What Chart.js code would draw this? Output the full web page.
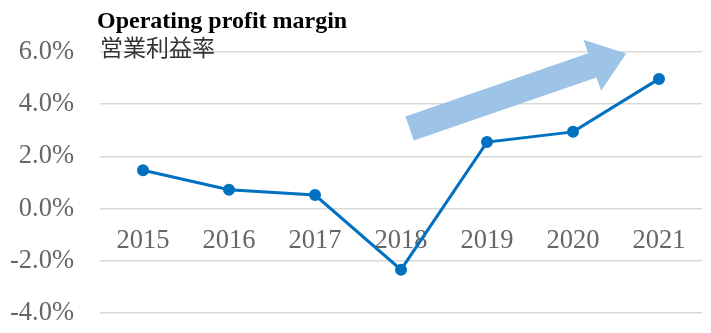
<!DOCTYPE html>
<html>
<head>
<meta charset="utf-8">
<script src="https://cdn.jsdelivr.net/npm/chart.js@4/dist/chart.umd.min.js"></script>
<style>
  html, body { margin: 0; padding: 0; background: #fff; overflow: hidden; }
  canvas { display: block; }
</style>
</head>
<body>
<canvas id="marginChart" width="711" height="333"></canvas>
<script>
const years = ['2015', '2016', '2017', '2018', '2019', '2020', '2021'];
const marginPct = [1.47, 0.72, 0.52, -2.34, 2.55, 2.94, 4.97];
const yTicks = [-4, -2, 0, 2, 4, 6];

const titleEn = 'Operating profit margin';
const titleJa = '営業利益率';

// trend arrow, anchored in (category index, %) space
const trendArrow = { from: [3.1, 3.07], to: [5.62, 5.94] };

const serif = "'Liberation Serif', 'Times New Roman', serif";

const headingPlugin = {
    id: 'heading',
    afterDraw(chart) {
        const ctx = chart.ctx;
        const left = chart.chartArea.left - 3;
        ctx.save();
        ctx.textAlign = 'left';
        ctx.textBaseline = 'alphabetic';
        ctx.fillStyle = '#000';
        ctx.font = 'bold 24px ' + serif;
        ctx.fillText(titleEn, left, 28);
        ctx.fillStyle = '#333';
        ctx.font = "23px 'Noto Sans CJK JP', sans-serif";
        ctx.textBaseline = 'middle';
        ctx.fillText(titleJa, left + 3, 47);
        ctx.restore();
    }
};

const arrowPlugin = {
    id: 'trendArrow',
    beforeDatasetsDraw(chart) {
        const { x, y } = chart.scales;
        const x0 = x.getPixelForValue(trendArrow.from[0]);
        const y0 = y.getPixelForValue(trendArrow.from[1]);
        const x1 = x.getPixelForValue(trendArrow.to[0]);
        const y1 = y.getPixelForValue(trendArrow.to[1]);
        const len = Math.hypot(x1 - x0, y1 - y0);
        const ux = (x1 - x0) / len, uy = (y1 - y0) / len;
        const nx = -uy, ny = ux;
        const shaft = 12.8, head = 27, headLen = 36;
        const bx = x1 - ux * headLen, by = y1 - uy * headLen;
        const ctx = chart.ctx;
        ctx.save();
        ctx.fillStyle = '#9DC3E6';
        ctx.beginPath();
        ctx.moveTo(x0 + nx * shaft, y0 + ny * shaft);
        ctx.lineTo(bx + nx * shaft, by + ny * shaft);
        ctx.lineTo(bx + nx * head, by + ny * head);
        ctx.lineTo(x1, y1);
        ctx.lineTo(bx - nx * head, by - ny * head);
        ctx.lineTo(bx - nx * shaft, by - ny * shaft);
        ctx.lineTo(x0 - nx * shaft, y0 - ny * shaft);
        ctx.closePath();
        ctx.fill();
        ctx.restore();
    }
};

new Chart(document.getElementById('marginChart'), {
    type: 'line',
    data: {
        labels: years,
        datasets: [{
            data: marginPct,
            borderColor: '#0070C0',
            backgroundColor: '#0070C0',
            borderWidth: 3,
            pointRadius: 4.5,
            pointHoverRadius: 4.5,
            tension: 0
        }]
    },
    options: {
        responsive: false,
        animation: false,
        layout: { padding: { top: 52, right: 9, bottom: 20, left: 0 } },
        plugins: {
            legend: { display: false },
            tooltip: { enabled: false }
        },
        scales: {
            x: {
                position: { y: 0 },
                offset: true,
                grid: { display: false },
                border: { display: false },
                ticks: {
                    color: '#666',
                    padding: 9,
                    maxRotation: 0,
                    font: { family: serif, size: 26.5 }
                },
                afterFit(scale) {
                    scale.height = 0;
                    scale.paddingTop = 0;
                    scale.paddingBottom = 0;
                }
            },
            y: {
                min: yTicks[0],
                max: yTicks[yTicks.length - 1],
                afterBuildTicks(scale) {
                    scale.ticks = yTicks.map(v => ({ value: v }));
                },
                grid: { color: '#d9d9d9', lineWidth: 1.5, drawTicks: false },
                border: { display: false },
                ticks: {
                    color: '#666',
                    padding: 26,
                    font: { family: serif, size: 26.5 },
                    callback: v => v.toFixed(1) + '%'
                },
                afterFit(scale) {
                    scale.width = 100;
                    scale.paddingTop = 0;
                    scale.paddingBottom = 0;
                }
            }
        }
    },
    plugins: [arrowPlugin, headingPlugin]
});
</script>
</body>
</html>
